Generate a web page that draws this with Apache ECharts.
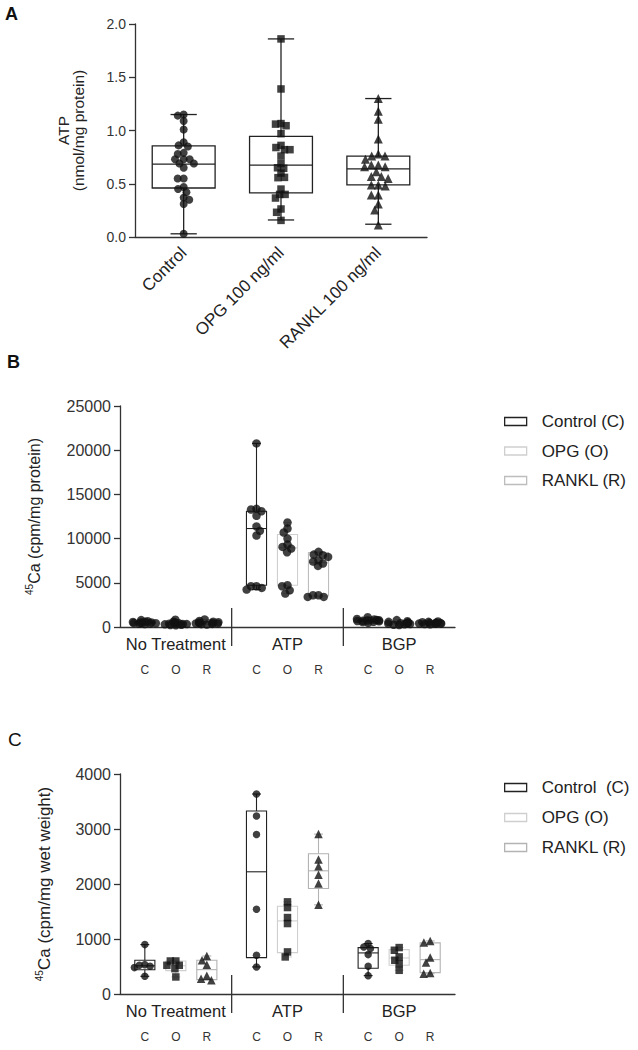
<!DOCTYPE html>
<html><head><meta charset="utf-8">
<script src="https://cdn.jsdelivr.net/npm/echarts@6/dist/echarts.min.js"></script>
<style>html,body{margin:0;padding:0;background:#fff}#c{width:638px;height:1050px}</style>
</head><body><div id="c"></div>
<script>
// ================= DATA =================
// Panel A
const aCategories = ['Control', 'OPG 100 ng/ml', 'RANKL 100 ng/ml'];
const aControl = [1.15, 1.14, 1.09, 1.01, 0.89, 0.86, 0.85, 0.79, 0.78, 0.73, 0.73, 0.73, 0.69, 0.69, 0.65, 0.55, 0.55, 0.47, 0.45, 0.42, 0.37, 0.35, 0.31, 0.03];
const aOPG = [1.86, 1.39, 1.065, 1.06, 1.045, 0.97, 0.86, 0.84, 0.82, 0.82, 0.76, 0.69, 0.65, 0.645, 0.60, 0.56, 0.557, 0.45, 0.40, 0.40, 0.366, 0.263, 0.232, 0.156];
const aRANKL = [1.30, 1.18, 1.105, 0.92, 0.78, 0.76, 0.76, 0.73, 0.676, 0.676, 0.66, 0.66, 0.613, 0.567, 0.567, 0.55, 0.488, 0.488, 0.48, 0.394, 0.394, 0.31, 0.254, 0.113];
// box stats: [min, Q1, median, Q3, max]
const aControlBox = [0.03, 0.46, 0.685, 0.855, 1.15];
const aOPGBox = [0.16, 0.415, 0.675, 0.945, 1.86];
const aRANKLBox = [0.12, 0.49, 0.64, 0.76, 1.30];

// Panels B and C
const groups = ['No Treatment', 'ATP', 'BGP'];
const treatAbbr = ['C', 'O', 'R'];
const bLegendNames = ['Control (C)', 'OPG (O)', 'RANKL (R)'];
const cLegendNames = ['Control  (C)', 'OPG (O)', 'RANKL (R)'];

// Panel B points per group (No Treatment, ATP, BGP)
const bControlPts = [
  [330, 360, 400, 420, 450, 470, 500, 520, 560, 600, 650, 780],
  [20770, 13370, 13290, 13100, 12580, 11370, 10880, 10350, 4610, 4610, 4420, 4230],
  [480, 560, 600, 640, 680, 700, 730, 760, 800, 850, 900, 1100]
];
const bOPGPts = [
  [200, 230, 260, 300, 330, 350, 380, 420, 460, 520, 600, 820],
  [11820, 11140, 10690, 10000, 9330, 9060, 8870, 8460, 4720, 4610, 4150, 3780],
  [220, 260, 300, 340, 380, 400, 430, 470, 520, 580, 650, 780]
];
const bRANKLPts = [
  [280, 320, 350, 380, 400, 430, 460, 500, 540, 600, 680, 850],
  [8500, 8190, 8120, 7930, 7550, 7400, 7180, 6910, 3590, 3590, 3400, 3400],
  [300, 330, 360, 380, 400, 420, 440, 470, 500, 540, 580, 620]
];
const bControlBox = [[330, 420, 485, 590, 780], [4230, 4720, 11140, 13100, 20770], [480, 630, 715, 838, 1100]];
const bOPGBox = [[200, 290, 365, 505, 820], [3780, 4720, 8960, 10460, 11820], [220, 330, 415, 565, 780]];
const bRANKLBox = [[280, 372, 445, 585, 850], [3400, 3510, 7280, 8420, 8500], [300, 375, 430, 530, 620]];

// Panel C points per group
const cControlPts = [
  [898, 534, 522, 504, 480, 322],
  [3636, 3235, 2901, 1542, 704, 492],
  [917, 856, 826, 716, 504, 334]
];
const cOPGPts = [
  [600, 600, 522, 522, 461, 310],
  [1675, 1572, 1390, 1281, 765, 674],
  [844, 795, 674, 613, 552, 431]
];
const cRANKLPts = [
  [692, 613, 534, 334, 279, 249],
  [2907, 2446, 2325, 2167, 2009, 1621],
  [965, 935, 662, 571, 382, 370]
];
const cControlBox = [[322, 440, 513, 613, 898], [492, 662, 2222, 3326, 3636], [334, 467, 747, 844, 917]];
const cOPGBox = [[310, 425, 515, 600, 600], [674, 753, 1329, 1596, 1675], [431, 522, 655, 807, 844]];
const cRANKLBox = [[249, 261, 443, 613, 692], [1621, 1918, 2240, 2549, 2907], [370, 388, 625, 929, 965]];

// ================= STYLE / LAYOUT =================
const FF = "'Liberation Sans', Arial, Helvetica, sans-serif";
const AX = '#333';
const TXT = '#222';

function boxRenderer(widthFrac, capFrac, color, lw) {
  return function (params, api) {
    const xi = api.value(0);
    const band = api.size([1, 0])[0];
    const bw = band * widthFrac, cw = band * capFrac;
    const pMin = api.coord([xi, api.value(1)]);
    const pQ1 = api.coord([xi, api.value(2)]);
    const pMed = api.coord([xi, api.value(3)]);
    const pQ3 = api.coord([xi, api.value(4)]);
    const pMax = api.coord([xi, api.value(5)]);
    const cx = pMed[0];
    const ls = { stroke: color, lineWidth: lw, fill: 'none' };
    return {
      type: 'group', children: [
        { type: 'line', shape: { x1: cx, y1: pMax[1], x2: cx, y2: pQ3[1] }, style: ls },
        { type: 'line', shape: { x1: cx, y1: pQ1[1], x2: cx, y2: pMin[1] }, style: ls },
        { type: 'line', shape: { x1: cx - cw / 2, y1: pMax[1], x2: cx + cw / 2, y2: pMax[1] }, style: ls },
        { type: 'line', shape: { x1: cx - cw / 2, y1: pMin[1], x2: cx + cw / 2, y2: pMin[1] }, style: ls },
        { type: 'rect', shape: { x: cx - bw / 2, y: pQ3[1], width: bw, height: pQ1[1] - pQ3[1] }, style: ls },
        { type: 'line', shape: { x1: cx - bw / 2, y1: pMed[1], x2: cx + bw / 2, y2: pMed[1] }, style: ls }
      ]
    };
  };
}

function sepRenderer(params, api) {
  const band = api.size([1, 0])[0];
  const p = api.coord([api.value(0), api.value(1)]);
  const x = p[0] - band / 2;
  return { type: 'line', shape: { x1: x, y1: p[1] - 19, x2: x, y2: p[1] + 19 }, style: { stroke: AX, lineWidth: 1.3 } };
}

const option = {
  animation: false,
  backgroundColor: '#fff',
  textStyle: { fontFamily: FF },
  grid: [], xAxis: [], yAxis: [], series: [], legend: [],
  graphic: [
    { type: 'text', left: 5, top: 5, style: { text: 'A', font: 'bold 18px ' + FF, fill: '#111' } },
    { type: 'text', left: 7, top: 353, style: { text: 'B', font: 'bold 18px ' + FF, fill: '#111' } },
    { type: 'text', left: 8, top: 730, style: { text: 'C', font: '19px ' + FF, fill: '#111' } }
  ]
};

// ---------- Panel A ----------
option.grid.push({ left: 135, top: 24, width: 292, height: 213 });
option.xAxis.push({
  type: 'category', gridIndex: 0, data: aCategories,
  jitter: 28, jitterOverlap: false, jitterMargin: -2,
  axisLine: { lineStyle: { color: AX, width: 1.3 } },
  axisTick: { alignWithLabel: true, length: 5, lineStyle: { color: AX, width: 1.3 } },
  axisLabel: { rotate: 45, interval: 0, fontSize: 17, color: TXT, margin: 13 }
});
option.yAxis.push({
  type: 'value', gridIndex: 0, min: 0, max: 2, interval: 0.5,
  splitLine: { show: false },
  axisLine: { show: true, lineStyle: { color: AX, width: 1.3 } },
  axisTick: { show: true, length: 6, lineStyle: { color: AX, width: 1.3 } },
  axisLabel: { fontSize: 14, color: '#333', margin: 9, formatter: v => v.toFixed(1) },
  name: 'ATP\n(nmol/mg protein)', nameLocation: 'middle', nameRotate: 90, nameGap: 49,
  nameTextStyle: { fontSize: 15.5, lineHeight: 15, color: TXT }
});
const aPts = [aControl, aOPG, aRANKL];
const aBoxes = [aControlBox, aOPGBox, aRANKLBox];
const aSymbols = ['circle', 'rect', 'triangle'];
const aSizes = [8, 7.5, 9];
option.series.push({
  type: 'custom', xAxisIndex: 0, yAxisIndex: 0, silent: true, z: 1,
  renderItem: boxRenderer(0.646, 0.27, '#222', 1.3),
  data: aBoxes.map((b, i) => [i].concat(b)), encode: { x: 0, y: [1, 2, 3, 4, 5] }
});
aPts.forEach((arr, i) => option.series.push({
  type: 'scatter', xAxisIndex: 0, yAxisIndex: 0, z: 3, silent: true,
  symbol: aSymbols[i], symbolSize: aSizes[i], itemStyle: { color: '#111' },
  data: arr.map(v => [i, v])
}));

// ---------- Panels B & C ----------
const pL = 120, pW = 335, offs = [-31, 0, 31];

function addPanel(cfg) {
  const base = option.grid.length;
  option.grid.push({ left: pL, top: cfg.top, width: pW, height: cfg.h });
  option.xAxis.push({
    type: 'category', gridIndex: base, data: groups,
    axisLine: { lineStyle: { color: AX, width: 1.3 } },
    axisTick: { alignWithLabel: true, interval: 0, length: 6, lineStyle: { color: AX, width: 1.3 } },
    axisLabel: { fontSize: 16.5, color: TXT, margin: 8, interval: 0 }
  });
  option.yAxis.push({
    type: 'value', gridIndex: base, min: 0, max: cfg.yMax, interval: cfg.yInt,
    splitLine: { show: false },
    axisLine: { show: true, lineStyle: { color: AX, width: 1.3 } },
    axisTick: { show: true, length: 6, lineStyle: { color: AX, width: 1.3 } },
    axisLabel: { fontSize: 16, color: '#333', margin: 9, formatter: v => String(v) },
    name: cfg.yName, nameLocation: 'middle', nameRotate: 90, nameGap: cfg.nameGap,
    nameTextStyle: { fontSize: cfg.nameFs, color: TXT, rich: { s: { fontSize: 10, padding: [0, 0, 10, 0], color: TXT } } }
  });
  option.series.push({
    type: 'custom', xAxisIndex: base, yAxisIndex: base, clip: false, silent: true,
    renderItem: sepRenderer,
    data: groups.slice(1).map((g, i) => [i + 1, 0]), encode: { x: 0, y: 1 }
  });
  for (let t = 0; t < 3; t++) {
    const gi = option.grid.length;
    option.grid.push({ left: pL + offs[t], top: cfg.top, width: pW, height: cfg.h });
    option.xAxis.push({
      type: 'category', gridIndex: gi, data: groups,
      jitter: cfg.jitter, jitterOverlap: false, jitterMargin: cfg.jm,
      axisLine: { show: false }, axisTick: { show: false },
      axisLabel: { formatter: () => treatAbbr[t], fontSize: 12, color: '#333', margin: 37, interval: 0 }
    });
    option.yAxis.push({ type: 'value', gridIndex: gi, min: 0, max: cfg.yMax, show: false });
    option.series.push({
      type: 'custom', name: cfg.legend[t], xAxisIndex: gi, yAxisIndex: gi, z: 1, silent: true,
      itemStyle: { color: cfg.boxColors[t] },
      renderItem: boxRenderer(0.18, 0.08, cfg.boxColors[t], 1.1),
      data: cfg.boxes[t].map((b, i) => [i].concat(b)), encode: { x: 0, y: [1, 2, 3, 4, 5] }
    });
    option.series.push({
      type: 'scatter', xAxisIndex: gi, yAxisIndex: gi, z: 3, silent: true,
      symbol: cfg.symbols[t], symbolSize: cfg.sizes[t], itemStyle: { color: '#111' },
      data: cfg.pts[t].flatMap((arr, i) => arr.map(v => [i, v]))
    });
  }
  option.legend.push({
    orient: 'vertical', left: 504, top: cfg.legendTop, padding: 0, itemWidth: 22, itemHeight: 8,
    itemGap: cfg.legendGap, selectedMode: false,
    textStyle: { fontSize: 17, color: TXT, padding: [0, 0, 0, 10] },
    data: cfg.legend.map((n, t) => ({
      name: n, icon: 'rect',
      itemStyle: { color: 'rgba(255,255,255,0)', borderColor: cfg.boxColors[t], borderWidth: 1.3 }
    }))
  });
}

addPanel({
  top: 406, h: 221, yMax: 25000, yInt: 5000,
  yName: '{s|45}Ca (cpm/mg protein)', nameGap: 76, nameFs: 16,
  legend: bLegendNames, legendTop: 413, legendGap: 12.5,
  boxColors: ['#222', '#cfcfcf', '#bdbdbd'],
  pts: [bControlPts, bOPGPts, bRANKLPts],
  boxes: [bControlBox, bOPGBox, bRANKLBox],
  symbols: ['circle', 'circle', 'circle'], sizes: [8.5, 8.5, 8.5], jitter: 24, jm: -3
});
addPanel({
  top: 774, h: 220, yMax: 4000, yInt: 1000,
  yName: '{s|45}Ca (cpm/mg wet weight)', nameGap: 66, nameFs: 17,
  legend: cLegendNames, legendTop: 779, legendGap: 13,
  boxColors: ['#222', '#cfcfcf', '#b3b3b3'],
  pts: [cControlPts, cOPGPts, cRANKLPts],
  boxes: [cControlBox, cOPGBox, cRANKLBox],
  symbols: ['circle', 'rect', 'triangle'], sizes: [7.5, 7.5, 8.5], jitter: 22, jm: -2
});

const chart = echarts.init(document.getElementById('c'), null, { renderer: 'svg', width: 638, height: 1050 });
chart.setOption(option);
</script>
</body></html>
